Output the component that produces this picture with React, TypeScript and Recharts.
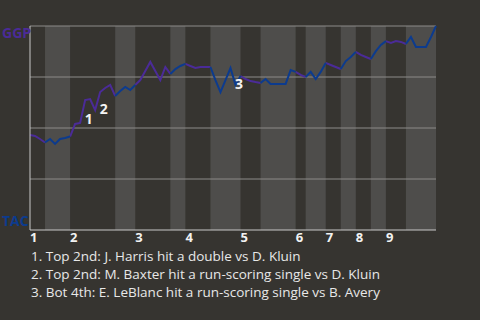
import React from 'react';
import {
  ComposedChart,
  Line,
  XAxis,
  YAxis,
  ReferenceArea,
  ReferenceLine,
  ReferenceDot,
} from 'recharts';

// GGP win probability (%) after each plate appearance
const winProb = [
  46.6, 46.1, 44.6, 42.9, 44.6, 42.2, 44.6, 45.1, 45.8, 52.0,
  52.5, 63.7, 64.2, 58.8, 67.6, 69.6, 71.1, 65.7, 68.1, 70.1,
  68.6, 71.1, 73.5, 77.9, 82.4, 77.9, 73.5, 79.9, 76.5, 78.9,
  80.4, 81.4, 80.4, 79.4, 79.9, 79.9, 79.9, 73.5, 67.6, 73.5,
  79.4, 71.1, 75.5, 74.0, 73.0, 72.5, 72.1, 74.0, 71.6, 71.6,
  71.6, 71.6, 78.4, 77.5, 76.0, 75.0, 77.5, 74.0, 77.5, 81.9,
  80.9, 79.9, 78.9, 82.8, 84.8, 87.3, 85.8, 84.8, 83.8, 87.7,
  90.7, 92.6, 91.7, 92.6, 92.2, 91.2, 94.6, 89.7, 89.7, 89.7,
  94.6, 100,
];

// plate-appearance index where each half inning starts (last entry = end of game)
const halfBreaks = [0, 3, 8, 17, 21, 28, 31, 36, 42, 46, 53, 55, 59, 62, 65, 68, 71, 75, 81];

const innings = ['1', '2', '3', '4', '5', '6', '7', '8', '9'];

const gridValues = [0, 25, 50, 75, 100];

const notes = [
  { idx: 11, text: 'Top 2nd: J. Harris hit a double vs D. Kluin' },
  { idx: 14, text: 'Top 2nd: M. Baxter hit a run-scoring single vs D. Kluin' },
  { idx: 41, text: 'Bot 4th: E. LeBlanc hit a run-scoring single vs B. Avery' },
];

const BG = '#363430';
const BAND = '#4e4d4b';
const GGP_COLOR = '#4b2b98';
const TAC_COLOR = '#0c3b8e';
const FONT = '"Open Sans", "Noto Sans", sans-serif';

const inHalf = (i: number, parity: number) =>
  halfBreaks.some((b, k) => k % 2 === parity && k < halfBreaks.length - 1 && i >= b && i <= halfBreaks[k + 1]);

const rows = winProb.map((v, i) => ({
  i,
  top: inHalf(i, 0) ? v : null,
  bot: inHalf(i, 1) ? v : null,
}));

const inningStarts = halfBreaks.filter((_, k) => k % 2 === 0 && k < halfBreaks.length - 1);

const bottomHalves = halfBreaks
  .map((b, k) => ({ from: b, to: halfBreaks[k + 1] }))
  .filter((_, k) => k % 2 === 1 && k < halfBreaks.length - 1);

const YTick = (props: any) => {
  const { y, payload } = props;
  const isTop = payload.value === 100;
  return (
    <text
      x={2}
      y={isTop ? y + 12 : y - 4}
      fill={isTop ? GGP_COLOR : TAC_COLOR}
      fontSize={14}
      fontWeight={700}
      fontFamily={FONT}
      textAnchor="start"
    >
      {isTop ? 'GGP' : 'TAC'}
    </text>
  );
};

const XTick = (props: any) => {
  const { x, payload } = props;
  const n = inningStarts.indexOf(payload.value);
  return (
    <text x={x} y={242} fill="#f2f2f2" fontSize={13} fontWeight={700} fontFamily={FONT} textAnchor="start">
      {innings[n]}
    </text>
  );
};

export default function App() {
  return (
    <div style={{ position: 'fixed', left: 0, top: 0, width: 480, height: 320, background: BG, overflow: 'hidden' }}>
      <ComposedChart
        width={480}
        height={320}
        data={rows}
        margin={{ top: 26, right: 44, left: 0, bottom: 70 }}
      >
        {bottomHalves.map((h) => (
          <ReferenceArea key={h.from} x1={h.from} x2={h.to} y1={0} y2={100} fill={BAND} fillOpacity={1} stroke="none" />
        ))}
        {gridValues.slice(1).map((g) => (
          <ReferenceLine key={g} y={g} stroke="#8c8b89" strokeWidth={1} />
        ))}
        <XAxis
          dataKey="i"
          type="number"
          domain={[0, 81]}
          ticks={inningStarts}
          tick={<XTick />}
          tickLine={false}
          axisLine={{ stroke: '#c8c8c8' }}
          height={20}
          interval={0}
        />
        <YAxis
          type="number"
          domain={[0, 100]}
          ticks={[0, 100]}
          tick={<YTick />}
          tickLine={false}
          axisLine={{ stroke: '#c8c8c8' }}
          width={30}
          interval={0}
        />
        <Line dataKey="top" type="linear" stroke={GGP_COLOR} strokeWidth={2} dot={false} isAnimationActive={false} connectNulls={false} />
        <Line dataKey="bot" type="linear" stroke={TAC_COLOR} strokeWidth={2} dot={false} isAnimationActive={false} connectNulls={false} />
        {notes.map((n, k) => (
          <ReferenceDot
            key={n.idx}
            x={n.idx - 0.5}
            y={(winProb[n.idx - 1] + winProb[n.idx]) / 2}
            r={0}
            shape={(p: any) => (
              <text x={p.cx + 2} y={p.cy + 13} fill="#f4f4f4" fontSize={14} fontWeight={700} fontFamily={FONT}>
                {k + 1}
              </text>
            )}
          />
        ))}
      </ComposedChart>
      <div style={{ position: 'absolute', left: 31, top: 246.5, fontFamily: FONT, fontSize: 13.5, lineHeight: '18px', color: '#e8e8e8' }}>
        {notes.map((n, k) => (
          <div key={n.idx}>{`${k + 1}. ${n.text}`}</div>
        ))}
      </div>
    </div>
  );
}
